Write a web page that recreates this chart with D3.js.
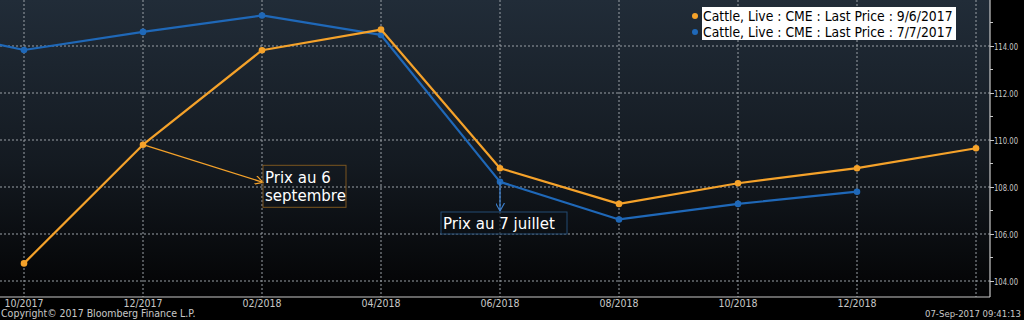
<!DOCTYPE html>
<html>
<head>
<meta charset="utf-8">
<script src="https://cdn.jsdelivr.net/npm/d3@7"></script>
<style>
  body { margin: 0; background: #000; }
  svg { display: block; font-family: "DejaVu Sans Condensed", "DejaVu Sans", sans-serif; }
</style>
</head>
<body>
<svg id="chart" width="1024" height="320"></svg>
<script>
// contract months (x) and last price curves
var months = ["08/2017", "10/2017", "12/2017", "02/2018", "04/2018", "06/2018", "08/2018", "10/2018", "12/2018", "02/2019"];
var priceSep6 = [null, 104.75, 109.8, 113.82, 114.7, 108.8, 107.28, 108.16, 108.8, 109.65];
var priceJul7 = [114.9, 113.83, 114.6, 115.3, 114.47, 108.22, 106.62, 107.28, 107.8, null];
var seriesNames = ["Cattle, Live : CME : Last Price : 9/6/2017", "Cattle, Live : CME : Last Price : 7/7/2017"];
var xTickLabels = ["10/2017", "12/2017", "02/2018", "04/2018", "06/2018", "08/2018", "10/2018", "12/2018", "02/2019"];
var yTicks = [104, 106, 108, 110, 112, 114, 116];

var orange = "#f5a22a", blue = "#1f68b8";

var width = 990, height = 297;
var svg = d3.select("#chart");

// month index from "MM/YYYY"
function monthIdx(s) {
  var p = s.split("/");
  return (+p[1] - 2017) * 12 + (+p[0] - 10);
}

var x = d3.scaleLinear()
  .domain([0, 16])
  .range([24, 976]);

var y = d3.scaleLinear()
  .domain([104, 114])
  .range([281, 46]);

// background gradient
var defs = svg.append("defs");
var grad = defs.append("linearGradient")
  .attr("id", "bg").attr("x1", 0).attr("y1", 0).attr("x2", 0).attr("y2", 1);
grad.append("stop").attr("offset", "0%").attr("stop-color", "#212c38");
grad.append("stop").attr("offset", "55%").attr("stop-color", "#141a21");
grad.append("stop").attr("offset", "100%").attr("stop-color", "#030304");

defs.append("clipPath").attr("id", "clip")
  .append("rect").attr("x", 0).attr("y", 0).attr("width", width).attr("height", height);

function arrowMarker(id, color) {
  defs.append("marker")
    .attr("id", id)
    .attr("viewBox", "0 0 10 10")
    .attr("refX", 9).attr("refY", 5)
    .attr("markerWidth", 9).attr("markerHeight", 9)
    .attr("markerUnits", "userSpaceOnUse")
    .attr("orient", "auto")
    .append("path")
      .attr("d", "M0,0 L9,5 L0,10")
      .attr("fill", "none")
      .attr("stroke", color)
      .attr("stroke-width", 1.3);
}
arrowMarker("arrowO", orange);
arrowMarker("arrowB", "#3a7cc8");

svg.append("rect")
  .attr("width", width).attr("height", height)
  .attr("fill", "url(#bg)");

// grid
var grid = svg.append("g").attr("clip-path", "url(#clip)");
grid.selectAll(".hg")
  .data(yTicks)
  .enter()
  .append("line")
    .attr("x1", 0).attr("x2", width)
    .attr("y1", function(d) { return y(d); })
    .attr("y2", function(d) { return y(d); })
    .attr("stroke", "#9aa0a6")
    .attr("stroke-width", 1)
    .attr("stroke-dasharray", "2,2");
grid.selectAll(".vg")
  .data(xTickLabels)
  .enter()
  .append("line")
    .attr("y1", 0).attr("y2", height)
    .attr("x1", function(d) { return x(monthIdx(d)); })
    .attr("x2", function(d) { return x(monthIdx(d)); })
    .attr("stroke", "#9aa0a6")
    .attr("stroke-width", 1)
    .attr("stroke-dasharray", "2,2");

// lines
var plot = svg.append("g").attr("clip-path", "url(#clip)");
function drawSeries(values, color) {
  var pts = months.map(function(m, i) { return {m: monthIdx(m), v: values[i]}; })
    .filter(function(d) { return d.v != null; });
  var line = d3.line()
    .x(function(d) { return x(d.m); })
    .y(function(d) { return y(d.v); });
  plot.append("path")
    .datum(pts)
    .attr("d", line)
    .attr("fill", "none")
    .attr("stroke", color)
    .attr("stroke-width", 2.2)
    .attr("stroke-linejoin", "round");
  plot.selectAll(null)
    .data(pts)
    .enter()
    .append("circle")
      .attr("cx", function(d) { return x(d.m); })
      .attr("cy", function(d) { return y(d.v); })
      .attr("r", 3.3)
      .attr("fill", color);
}
drawSeries(priceJul7, blue);
drawSeries(priceSep6, orange);

// annotations
var ann = svg.append("g");
var p12 = {m: monthIdx("12/2017"), v: priceSep6[2]};
var box1x = x(monthIdx("02/2018")) + 1;
ann.append("line")
  .attr("x1", x(p12.m)).attr("y1", y(p12.v))
  .attr("x2", box1x).attr("y2", y(108.2))
  .attr("stroke", orange).attr("stroke-width", 1.3)
  .attr("marker-end", "url(#arrowO)");
ann.append("rect")
  .attr("x", box1x).attr("y", y(108.2) - 17)
  .attr("width", 83).attr("height", 42)
  .attr("fill", "none").attr("stroke", "#7a5520").attr("stroke-width", 1);
ann.append("text")
  .attr("x", box1x + 2).attr("y", y(108.2) + 1)
  .attr("fill", "#fff").attr("font-size", 15)
  .attr("font-family", "DejaVu Sans, sans-serif")
  .text("Prix au 6");
ann.append("text")
  .attr("x", box1x + 2).attr("y", y(108.2) + 19)
  .attr("fill", "#fff").attr("font-size", 15)
  .attr("font-family", "DejaVu Sans, sans-serif")
  .text("septembre");

var p06 = {m: monthIdx("06/2018"), v: priceJul7[5]};
ann.append("line")
  .attr("x1", x(p06.m)).attr("y1", y(p06.v))
  .attr("x2", x(p06.m)).attr("y2", 211)
  .attr("stroke", "#3a7cc8").attr("stroke-width", 1.3)
  .attr("marker-end", "url(#arrowB)");
ann.append("rect")
  .attr("x", x(p06.m) - 59).attr("y", 212)
  .attr("width", 126).attr("height", 22)
  .attr("fill", "#0b1016").attr("fill-opacity", 0.6)
  .attr("stroke", "#234a72").attr("stroke-width", 1);
ann.append("text")
  .attr("x", x(p06.m) - 57).attr("y", 229)
  .attr("fill", "#fff").attr("font-size", 15)
  .attr("font-family", "DejaVu Sans, sans-serif")
  .text("Prix au 7 juillet");

// right axis
var ax = svg.append("g");
ax.append("line")
  .attr("x1", width).attr("x2", width).attr("y1", 0).attr("y2", height)
  .attr("stroke", "#c8c8c8").attr("stroke-width", 1.2);
ax.append("line")
  .attr("x1", 0).attr("x2", width).attr("y1", height).attr("y2", height)
  .attr("stroke", "#c8c8c8").attr("stroke-width", 1.2);
var yAxis = ax.append("g")
  .attr("transform", "translate(" + width + ",0)")
  .call(d3.axisRight(y).tickValues(yTicks.filter(function(d) { return d <= 114; }))
    .tickFormat(d3.format(".2f")).tickSize(4).tickPadding(0));
yAxis.select(".domain").remove();
yAxis.selectAll("line").attr("stroke", "#c8c8c8");
yAxis.selectAll("text").attr("fill", "#c8c8c8").attr("font-size", 9.5)
  .attr("font-family", "DejaVu Sans Condensed, sans-serif")
  .attr("textLength", 24)
  .attr("lengthAdjust", "spacingAndGlyphs");
// minor ticks on odd values
ax.selectAll(".minor")
  .data([105, 107, 109, 111, 113, 115])
  .enter()
  .append("line")
    .attr("x1", width).attr("x2", width + 3)
    .attr("y1", function(d) { return y(d); })
    .attr("y2", function(d) { return y(d); })
    .attr("stroke", "#c8c8c8");

// x labels
ax.selectAll(".xl")
  .data(xTickLabels.slice(0, 8))
  .enter()
  .append("text")
    .attr("x", function(d) { return x(monthIdx(d)); })
    .attr("y", 307)
    .attr("text-anchor", "middle")
    .attr("fill", "#c8c8c8")
    .attr("font-size", 10.5)
    .text(function(d) { return d; });

svg.append("text")
  .attr("x", 1).attr("y", 317)
  .attr("fill", "#c8c8c8").attr("font-size", 10.5)
  .text("Copyright\u00a9 2017 Bloomberg Finance L.P.");
svg.append("text")
  .attr("x", 1021).attr("y", 317)
  .attr("text-anchor", "end")
  .attr("fill", "#c8c8c8").attr("font-size", 9.5)
  .text("07-Sep-2017 09:41:13");

// legend
var leg = svg.append("g");
leg.append("rect")
  .attr("x", 702).attr("y", 7).attr("width", 254).attr("height", 33)
  .attr("fill", "#fff");
leg.selectAll(".li")
  .data(seriesNames)
  .enter()
  .append("g")
    .attr("transform", function(d, i) { return "translate(0," + (16 + i * 16) + ")"; })
    .each(function(d, i) {
      var g = d3.select(this);
      g.append("circle").attr("cx", 695).attr("cy", 0).attr("r", 3)
        .attr("fill", i == 0 ? orange : blue);
      g.append("text").attr("x", 703).attr("y", 5)
        .attr("fill", "#000").attr("font-size", 13.8)
        .text(d);
    });
</script>
</body>
</html>
